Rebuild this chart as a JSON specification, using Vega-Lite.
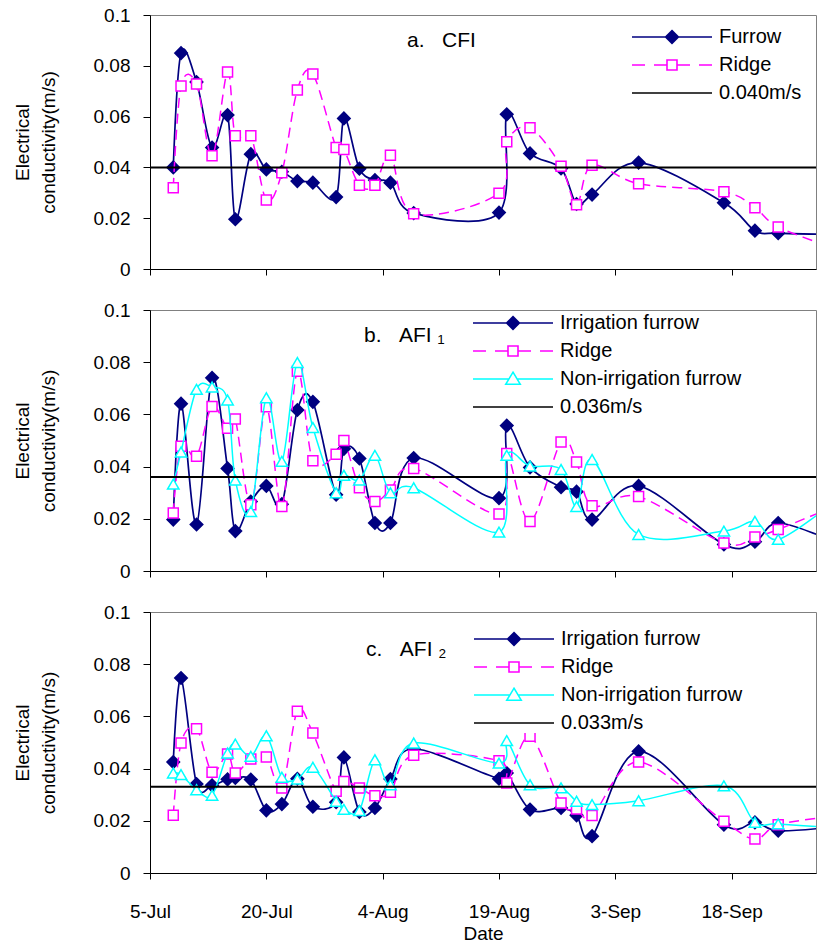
{
  "$schema": "https://vega.github.io/schema/vega-lite/v6.json",
  "padding": {"top": 5, "left": 12, "right": 0, "bottom": 0},
  "bounds": "flush",
  "spacing": 41,
  "datasets": {
    "a": [
      {"series":"Furrow","date":"2007/07/08","value":0.040},
      {"series":"Furrow","date":"2007/07/09","value":0.085},
      {"series":"Furrow","date":"2007/07/11","value":0.0736},
      {"series":"Furrow","date":"2007/07/13","value":0.0478},
      {"series":"Furrow","date":"2007/07/15","value":0.0606},
      {"series":"Furrow","date":"2007/07/16","value":0.0196},
      {"series":"Furrow","date":"2007/07/18","value":0.0452},
      {"series":"Furrow","date":"2007/07/20","value":0.0392},
      {"series":"Furrow","date":"2007/07/22","value":0.0383},
      {"series":"Furrow","date":"2007/07/24","value":0.0346},
      {"series":"Furrow","date":"2007/07/26","value":0.034},
      {"series":"Furrow","date":"2007/07/29","value":0.0283},
      {"series":"Furrow","date":"2007/07/30","value":0.0593},
      {"series":"Furrow","date":"2007/08/01","value":0.0395},
      {"series":"Furrow","date":"2007/08/03","value":0.035},
      {"series":"Furrow","date":"2007/08/05","value":0.034},
      {"series":"Furrow","date":"2007/08/08","value":0.022},
      {"series":"Furrow","date":"2007/08/19","value":0.0222},
      {"series":"Furrow","date":"2007/08/20","value":0.0609},
      {"series":"Furrow","date":"2007/08/23","value":0.0455},
      {"series":"Furrow","date":"2007/08/27","value":0.0396},
      {"series":"Furrow","date":"2007/08/29","value":0.0256},
      {"series":"Furrow","date":"2007/08/31","value":0.0293},
      {"series":"Furrow","date":"2007/09/06","value":0.0419},
      {"series":"Furrow","date":"2007/09/17","value":0.0261},
      {"series":"Furrow","date":"2007/09/21","value":0.0151},
      {"series":"Furrow","date":"2007/09/24","value":0.0141},
      {"series":"Furrow","date":"2007/10/01","value":0.0136},
      {"series":"Ridge","date":"2007/07/08","value":0.032},
      {"series":"Ridge","date":"2007/07/09","value":0.072},
      {"series":"Ridge","date":"2007/07/11","value":0.0728},
      {"series":"Ridge","date":"2007/07/13","value":0.0446},
      {"series":"Ridge","date":"2007/07/15","value":0.0776},
      {"series":"Ridge","date":"2007/07/16","value":0.0525},
      {"series":"Ridge","date":"2007/07/18","value":0.0525},
      {"series":"Ridge","date":"2007/07/20","value":0.0272},
      {"series":"Ridge","date":"2007/07/22","value":0.0379},
      {"series":"Ridge","date":"2007/07/24","value":0.0705},
      {"series":"Ridge","date":"2007/07/26","value":0.0768},
      {"series":"Ridge","date":"2007/07/29","value":0.0478},
      {"series":"Ridge","date":"2007/07/30","value":0.047},
      {"series":"Ridge","date":"2007/08/01","value":0.033},
      {"series":"Ridge","date":"2007/08/03","value":0.033},
      {"series":"Ridge","date":"2007/08/05","value":0.0448},
      {"series":"Ridge","date":"2007/08/08","value":0.0218},
      {"series":"Ridge","date":"2007/08/19","value":0.0298},
      {"series":"Ridge","date":"2007/08/20","value":0.0501},
      {"series":"Ridge","date":"2007/08/23","value":0.0556},
      {"series":"Ridge","date":"2007/08/27","value":0.0405},
      {"series":"Ridge","date":"2007/08/29","value":0.0253},
      {"series":"Ridge","date":"2007/08/31","value":0.0408},
      {"series":"Ridge","date":"2007/09/06","value":0.0336},
      {"series":"Ridge","date":"2007/09/17","value":0.0304},
      {"series":"Ridge","date":"2007/09/21","value":0.0241},
      {"series":"Ridge","date":"2007/09/24","value":0.0165},
      {"series":"Ridge","date":"2007/10/01","value":0.0085}
    ],
    "b": [
      {"series":"Irrigation furrow","date":"2007/07/08","value":0.0197},
      {"series":"Irrigation furrow","date":"2007/07/09","value":0.0641},
      {"series":"Irrigation furrow","date":"2007/07/11","value":0.0178},
      {"series":"Irrigation furrow","date":"2007/07/13","value":0.074},
      {"series":"Irrigation furrow","date":"2007/07/15","value":0.0393},
      {"series":"Irrigation furrow","date":"2007/07/16","value":0.0153},
      {"series":"Irrigation furrow","date":"2007/07/18","value":0.0266},
      {"series":"Irrigation furrow","date":"2007/07/20","value":0.0326},
      {"series":"Irrigation furrow","date":"2007/07/22","value":0.0256},
      {"series":"Irrigation furrow","date":"2007/07/24","value":0.0617},
      {"series":"Irrigation furrow","date":"2007/07/26","value":0.0648},
      {"series":"Irrigation furrow","date":"2007/07/29","value":0.0292},
      {"series":"Irrigation furrow","date":"2007/07/30","value":0.0468},
      {"series":"Irrigation furrow","date":"2007/08/01","value":0.0431},
      {"series":"Irrigation furrow","date":"2007/08/03","value":0.0184},
      {"series":"Irrigation furrow","date":"2007/08/05","value":0.0184},
      {"series":"Irrigation furrow","date":"2007/08/08","value":0.0433},
      {"series":"Irrigation furrow","date":"2007/08/19","value":0.0279},
      {"series":"Irrigation furrow","date":"2007/08/20","value":0.0557},
      {"series":"Irrigation furrow","date":"2007/08/23","value":0.0397},
      {"series":"Irrigation furrow","date":"2007/08/27","value":0.0321},
      {"series":"Irrigation furrow","date":"2007/08/29","value":0.0304},
      {"series":"Irrigation furrow","date":"2007/08/31","value":0.0197},
      {"series":"Irrigation furrow","date":"2007/09/06","value":0.0326},
      {"series":"Irrigation furrow","date":"2007/09/17","value":0.0102},
      {"series":"Irrigation furrow","date":"2007/09/21","value":0.0112},
      {"series":"Irrigation furrow","date":"2007/09/24","value":0.0184},
      {"series":"Irrigation furrow","date":"2007/10/01","value":0.0115},
      {"series":"Ridge","date":"2007/07/08","value":0.0222},
      {"series":"Ridge","date":"2007/07/09","value":0.0478},
      {"series":"Ridge","date":"2007/07/11","value":0.044},
      {"series":"Ridge","date":"2007/07/13","value":0.063},
      {"series":"Ridge","date":"2007/07/15","value":0.0547},
      {"series":"Ridge","date":"2007/07/16","value":0.0582},
      {"series":"Ridge","date":"2007/07/18","value":0.0254},
      {"series":"Ridge","date":"2007/07/20","value":0.0629},
      {"series":"Ridge","date":"2007/07/22","value":0.0247},
      {"series":"Ridge","date":"2007/07/24","value":0.0765},
      {"series":"Ridge","date":"2007/07/26","value":0.0422},
      {"series":"Ridge","date":"2007/07/29","value":0.0447},
      {"series":"Ridge","date":"2007/07/30","value":0.05},
      {"series":"Ridge","date":"2007/08/01","value":0.0319},
      {"series":"Ridge","date":"2007/08/03","value":0.0266},
      {"series":"Ridge","date":"2007/08/05","value":0.031},
      {"series":"Ridge","date":"2007/08/08","value":0.0393},
      {"series":"Ridge","date":"2007/08/19","value":0.0218},
      {"series":"Ridge","date":"2007/08/20","value":0.045},
      {"series":"Ridge","date":"2007/08/23","value":0.019},
      {"series":"Ridge","date":"2007/08/27","value":0.0494},
      {"series":"Ridge","date":"2007/08/29","value":0.0418},
      {"series":"Ridge","date":"2007/08/31","value":0.025},
      {"series":"Ridge","date":"2007/09/06","value":0.0285},
      {"series":"Ridge","date":"2007/09/17","value":0.0107},
      {"series":"Ridge","date":"2007/09/21","value":0.013},
      {"series":"Ridge","date":"2007/09/24","value":0.0159},
      {"series":"Ridge","date":"2007/10/01","value":0.0245},
      {"series":"Non-irrigation furrow","date":"2007/07/08","value":0.0333},
      {"series":"Non-irrigation furrow","date":"2007/07/09","value":0.0456},
      {"series":"Non-irrigation furrow","date":"2007/07/11","value":0.0696},
      {"series":"Non-irrigation furrow","date":"2007/07/13","value":0.0705},
      {"series":"Non-irrigation furrow","date":"2007/07/15","value":0.0655},
      {"series":"Non-irrigation furrow","date":"2007/07/16","value":0.0348},
      {"series":"Non-irrigation furrow","date":"2007/07/18","value":0.0228},
      {"series":"Non-irrigation furrow","date":"2007/07/20","value":0.0664},
      {"series":"Non-irrigation furrow","date":"2007/07/22","value":0.042},
      {"series":"Non-irrigation furrow","date":"2007/07/24","value":0.0799},
      {"series":"Non-irrigation furrow","date":"2007/07/26","value":0.055},
      {"series":"Non-irrigation furrow","date":"2007/07/29","value":0.03},
      {"series":"Non-irrigation furrow","date":"2007/07/30","value":0.0367},
      {"series":"Non-irrigation furrow","date":"2007/08/01","value":0.0348},
      {"series":"Non-irrigation furrow","date":"2007/08/03","value":0.0443},
      {"series":"Non-irrigation furrow","date":"2007/08/05","value":0.03},
      {"series":"Non-irrigation furrow","date":"2007/08/08","value":0.0319},
      {"series":"Non-irrigation furrow","date":"2007/08/19","value":0.0149},
      {"series":"Non-irrigation furrow","date":"2007/08/20","value":0.0443},
      {"series":"Non-irrigation furrow","date":"2007/08/23","value":0.0402},
      {"series":"Non-irrigation furrow","date":"2007/08/27","value":0.0389},
      {"series":"Non-irrigation furrow","date":"2007/08/29","value":0.0247},
      {"series":"Non-irrigation furrow","date":"2007/08/31","value":0.0427},
      {"series":"Non-irrigation furrow","date":"2007/09/06","value":0.014},
      {"series":"Non-irrigation furrow","date":"2007/09/17","value":0.0153},
      {"series":"Non-irrigation furrow","date":"2007/09/21","value":0.019},
      {"series":"Non-irrigation furrow","date":"2007/09/24","value":0.0121},
      {"series":"Non-irrigation furrow","date":"2007/10/01","value":0.026}
    ],
    "c": [
      {"series":"Irrigation furrow","date":"2007/07/08","value":0.0425},
      {"series":"Irrigation furrow","date":"2007/07/09","value":0.0747},
      {"series":"Irrigation furrow","date":"2007/07/11","value":0.0341},
      {"series":"Irrigation furrow","date":"2007/07/13","value":0.0336},
      {"series":"Irrigation furrow","date":"2007/07/15","value":0.0359},
      {"series":"Irrigation furrow","date":"2007/07/16","value":0.0364},
      {"series":"Irrigation furrow","date":"2007/07/18","value":0.0358},
      {"series":"Irrigation furrow","date":"2007/07/20","value":0.024},
      {"series":"Irrigation furrow","date":"2007/07/22","value":0.0264},
      {"series":"Irrigation furrow","date":"2007/07/24","value":0.0361},
      {"series":"Irrigation furrow","date":"2007/07/26","value":0.0254},
      {"series":"Irrigation furrow","date":"2007/07/29","value":0.0271},
      {"series":"Irrigation furrow","date":"2007/07/30","value":0.0443},
      {"series":"Irrigation furrow","date":"2007/08/01","value":0.0234},
      {"series":"Irrigation furrow","date":"2007/08/03","value":0.0249},
      {"series":"Irrigation furrow","date":"2007/08/05","value":0.036},
      {"series":"Irrigation furrow","date":"2007/08/08","value":0.0476},
      {"series":"Irrigation furrow","date":"2007/08/19","value":0.0361},
      {"series":"Irrigation furrow","date":"2007/08/20","value":0.0383},
      {"series":"Irrigation furrow","date":"2007/08/23","value":0.0243},
      {"series":"Irrigation furrow","date":"2007/08/27","value":0.0249},
      {"series":"Irrigation furrow","date":"2007/08/29","value":0.0221},
      {"series":"Irrigation furrow","date":"2007/08/31","value":0.0141},
      {"series":"Irrigation furrow","date":"2007/09/06","value":0.0466},
      {"series":"Irrigation furrow","date":"2007/09/17","value":0.0185},
      {"series":"Irrigation furrow","date":"2007/09/21","value":0.0194},
      {"series":"Irrigation furrow","date":"2007/09/24","value":0.0162},
      {"series":"Irrigation furrow","date":"2007/10/01","value":0.0176},
      {"series":"Ridge","date":"2007/07/08","value":0.0221},
      {"series":"Ridge","date":"2007/07/09","value":0.0498},
      {"series":"Ridge","date":"2007/07/11","value":0.0553},
      {"series":"Ridge","date":"2007/07/13","value":0.0386},
      {"series":"Ridge","date":"2007/07/15","value":0.0456},
      {"series":"Ridge","date":"2007/07/16","value":0.0383},
      {"series":"Ridge","date":"2007/07/18","value":0.0437},
      {"series":"Ridge","date":"2007/07/20","value":0.0444},
      {"series":"Ridge","date":"2007/07/22","value":0.0326},
      {"series":"Ridge","date":"2007/07/24","value":0.062},
      {"series":"Ridge","date":"2007/07/26","value":0.0536},
      {"series":"Ridge","date":"2007/07/29","value":0.0313},
      {"series":"Ridge","date":"2007/07/30","value":0.0351},
      {"series":"Ridge","date":"2007/08/01","value":0.0326},
      {"series":"Ridge","date":"2007/08/03","value":0.0296},
      {"series":"Ridge","date":"2007/08/05","value":0.0309},
      {"series":"Ridge","date":"2007/08/08","value":0.0451},
      {"series":"Ridge","date":"2007/08/19","value":0.043},
      {"series":"Ridge","date":"2007/08/20","value":0.0345},
      {"series":"Ridge","date":"2007/08/23","value":0.0524},
      {"series":"Ridge","date":"2007/08/27","value":0.0268},
      {"series":"Ridge","date":"2007/08/29","value":0.0245},
      {"series":"Ridge","date":"2007/08/31","value":0.022},
      {"series":"Ridge","date":"2007/09/06","value":0.0425},
      {"series":"Ridge","date":"2007/09/17","value":0.0198},
      {"series":"Ridge","date":"2007/09/21","value":0.013},
      {"series":"Ridge","date":"2007/09/24","value":0.0185},
      {"series":"Ridge","date":"2007/10/01","value":0.0217},
      {"series":"Non-irrigation furrow","date":"2007/07/08","value":0.0383},
      {"series":"Non-irrigation furrow","date":"2007/07/09","value":0.0377},
      {"series":"Non-irrigation furrow","date":"2007/07/11","value":0.0319},
      {"series":"Non-irrigation furrow","date":"2007/07/13","value":0.0298},
      {"series":"Non-irrigation furrow","date":"2007/07/15","value":0.046},
      {"series":"Non-irrigation furrow","date":"2007/07/16","value":0.0494},
      {"series":"Non-irrigation furrow","date":"2007/07/18","value":0.0447},
      {"series":"Non-irrigation furrow","date":"2007/07/20","value":0.0526},
      {"series":"Non-irrigation furrow","date":"2007/07/22","value":0.0367},
      {"series":"Non-irrigation furrow","date":"2007/07/24","value":0.036},
      {"series":"Non-irrigation furrow","date":"2007/07/26","value":0.0405},
      {"series":"Non-irrigation furrow","date":"2007/07/29","value":0.0275},
      {"series":"Non-irrigation furrow","date":"2007/07/30","value":0.0244},
      {"series":"Non-irrigation furrow","date":"2007/08/01","value":0.0239},
      {"series":"Non-irrigation furrow","date":"2007/08/03","value":0.0434},
      {"series":"Non-irrigation furrow","date":"2007/08/05","value":0.0338},
      {"series":"Non-irrigation furrow","date":"2007/08/08","value":0.0498},
      {"series":"Non-irrigation furrow","date":"2007/08/19","value":0.0421},
      {"series":"Non-irrigation furrow","date":"2007/08/20","value":0.0507},
      {"series":"Non-irrigation furrow","date":"2007/08/23","value":0.0338},
      {"series":"Non-irrigation furrow","date":"2007/08/27","value":0.0326},
      {"series":"Non-irrigation furrow","date":"2007/08/29","value":0.0275},
      {"series":"Non-irrigation furrow","date":"2007/08/31","value":0.0262},
      {"series":"Non-irrigation furrow","date":"2007/09/06","value":0.0277},
      {"series":"Non-irrigation furrow","date":"2007/09/17","value":0.0334},
      {"series":"Non-irrigation furrow","date":"2007/09/21","value":0.0194},
      {"series":"Non-irrigation furrow","date":"2007/09/24","value":0.0188},
      {"series":"Non-irrigation furrow","date":"2007/10/01","value":0.0174}
    ],
    "ta": [{"series":"0.040m/s","value":0.040}],
    "tb": [{"series":"0.036m/s","value":0.036}],
    "tc": [{"series":"0.033m/s","value":0.033}]
  },
  "vconcat": [
    {
      "width": 666, "height": 254,
      "title": {"text": "a.\u00a0\u00a0\u00a0CFI", "dx": 257, "offset": -45},
      "encoding": {
        "y": {"field": "value", "type": "quantitative", "scale": {"domain": [0, 0.1], "nice": false}, "axis": {"values": [0,0.02,0.04,0.06,0.08,0.1], "format": "~g", "title": ["Electrical", "conductivity(m/s)"]}}
      },
      "layer": [
        {
          "data": {"name": "a"},
          "transform": [{"filter": {"field": "series", "equal": "Furrow"}}],
          "mark": {"type": "line", "interpolate": "cardinal", "clip": true, "strokeWidth": 1.7, "color": "#000080"},
          "encoding": {
            "x": {"field": "date", "type": "temporal", "scale": {"domain": [{"year":2007,"month":"jul","date":5},{"year":2007,"month":"sep","date":28,"hours":21}]}, "axis": {"values": [{"year":2007,"month":"jul","date":5},{"year":2007,"month":"jul","date":20},{"year":2007,"month":"aug","date":4},{"year":2007,"month":"aug","date":19},{"year":2007,"month":"sep","date":3},{"year":2007,"month":"sep","date":18}], "labels": false, "title": null}}
          }
        },
        {
          "data": {"name": "a"},
          "transform": [{"filter": {"field": "series", "equal": "Furrow"}}],
          "mark": {"type": "point", "shape": "diamond", "filled": true, "fill": "#000080", "stroke": "#000080", "size": 140, "opacity": 1, "clip": true},
          "encoding": {"x": {"field": "date", "type": "temporal"}}
        },
        {
          "data": {"name": "a"},
          "transform": [{"filter": {"field": "series", "equal": "Ridge"}}],
          "mark": {"type": "line", "interpolate": "cardinal", "clip": true, "strokeWidth": 1.5, "color": "#ff00ff", "strokeDash": [10, 6]},
          "encoding": {"x": {"field": "date", "type": "temporal"}}
        },
        {
          "data": {"name": "a"},
          "transform": [{"filter": {"field": "series", "equal": "Ridge"}}],
          "mark": {"type": "point", "shape": "square", "filled": true, "fill": "#ffffff", "stroke": "#ff00ff", "strokeWidth": 1.5, "size": 100, "opacity": 1, "clip": true},
          "encoding": {"x": {"field": "date", "type": "temporal"}}
        },
        {
          "data": {"name": "ta"},
          "mark": {"type": "rule", "strokeWidth": 2, "color": "#000000"},
          "encoding": {}
        },
        {
          "data": {"values": []},
          "mark": {"type": "point", "filled": false, "opacity": 1, "strokeWidth": 1.6},
          "encoding": {
            "color": {"field": "series", "type": "nominal", "scale": {"domain": ["Furrow","Ridge","0.040m/s"], "range": ["#000080","#ff00ff","#000000"]},
              "legend": {"orient": "none", "legendX": 481, "legendY": 11, "title": null}},
            "shape": {"field": "series", "type": "nominal", "scale": {"domain": ["Furrow","Ridge","0.040m/s"], "range": [
              "M-1,0H7M3,-0.64L3.64,0L3,0.64L2.36,0ZM2.84,-0.48H3.16M2.68,-0.32H3.32M2.52,-0.16H3.48M2.52,0.16H3.48M2.68,0.32H3.32M2.84,0.48H3.16",
              "M-1,0H0.3M1.2,0H2.5M3.5,0H4.8M5.7,0H7M2.5,-0.5H3.5V0.5H2.5Z",
              "M-1,0H7"]},
              "legend": {"orient": "none", "legendX": 481, "legendY": 11, "title": null}}
          }
        }
      ]
    },
    {
      "width": 666, "height": 261,
      "title": {"text": "b.\u00a0\u00a0\u00a0AFI\u00a0\u2081", "dx": 214, "offset": -45},
      "encoding": {
        "y": {"field": "value", "type": "quantitative", "scale": {"domain": [0, 0.1], "nice": false}, "axis": {"values": [0,0.02,0.04,0.06,0.08,0.1], "format": "~g", "title": ["Electrical", "conductivity(m/s)"]}}
      },
      "layer": [
        {
          "data": {"name": "b"},
          "transform": [{"filter": {"field": "series", "equal": "Irrigation furrow"}}],
          "mark": {"type": "line", "interpolate": "cardinal", "clip": true, "strokeWidth": 1.7, "color": "#000080"},
          "encoding": {
            "x": {"field": "date", "type": "temporal", "scale": {"domain": [{"year":2007,"month":"jul","date":5},{"year":2007,"month":"sep","date":28,"hours":21}]}, "axis": {"values": [{"year":2007,"month":"jul","date":5},{"year":2007,"month":"jul","date":20},{"year":2007,"month":"aug","date":4},{"year":2007,"month":"aug","date":19},{"year":2007,"month":"sep","date":3},{"year":2007,"month":"sep","date":18}], "labels": false, "title": null}}
          }
        },
        {
          "data": {"name": "b"},
          "transform": [{"filter": {"field": "series", "equal": "Irrigation furrow"}}],
          "mark": {"type": "point", "shape": "diamond", "filled": true, "fill": "#000080", "stroke": "#000080", "size": 140, "opacity": 1, "clip": true},
          "encoding": {"x": {"field": "date", "type": "temporal"}}
        },
        {
          "data": {"name": "b"},
          "transform": [{"filter": {"field": "series", "equal": "Ridge"}}],
          "mark": {"type": "line", "interpolate": "cardinal", "clip": true, "strokeWidth": 1.5, "color": "#ff00ff", "strokeDash": [10, 6]},
          "encoding": {"x": {"field": "date", "type": "temporal"}}
        },
        {
          "data": {"name": "b"},
          "transform": [{"filter": {"field": "series", "equal": "Ridge"}}],
          "mark": {"type": "point", "shape": "square", "filled": true, "fill": "#ffffff", "stroke": "#ff00ff", "strokeWidth": 1.5, "size": 100, "opacity": 1, "clip": true},
          "encoding": {"x": {"field": "date", "type": "temporal"}}
        },
        {
          "data": {"name": "b"},
          "transform": [{"filter": {"field": "series", "equal": "Non-irrigation furrow"}}],
          "mark": {"type": "line", "interpolate": "cardinal", "clip": true, "strokeWidth": 1.5, "color": "#00ffff"},
          "encoding": {"x": {"field": "date", "type": "temporal"}}
        },
        {
          "data": {"name": "b"},
          "transform": [{"filter": {"field": "series", "equal": "Non-irrigation furrow"}}],
          "mark": {"type": "point", "shape": "triangle-up", "filled": true, "fill": "#ffffff", "stroke": "#00ffff", "strokeWidth": 1.5, "size": 130, "opacity": 1, "clip": true},
          "encoding": {"x": {"field": "date", "type": "temporal"}}
        },
        {
          "data": {"name": "tb"},
          "mark": {"type": "rule", "strokeWidth": 2, "color": "#000000"},
          "encoding": {}
        },
        {
          "data": {"values": []},
          "mark": {"type": "point", "filled": false, "opacity": 1, "strokeWidth": 1.6},
          "encoding": {
            "color": {"field": "series", "type": "nominal", "scale": {"domain": ["Irrigation furrow","Ridge","Non-irrigation furrow","0.036m/s"], "range": ["#000080","#ff00ff","#00ffff","#000000"]},
              "legend": {"orient": "none", "legendX": 322, "legendY": 2, "title": null}},
            "shape": {"field": "series", "type": "nominal", "scale": {"domain": ["Irrigation furrow","Ridge","Non-irrigation furrow","0.036m/s"], "range": [
              "M-1,0H7M3,-0.64L3.64,0L3,0.64L2.36,0ZM2.84,-0.48H3.16M2.68,-0.32H3.32M2.52,-0.16H3.48M2.52,0.16H3.48M2.68,0.32H3.32M2.84,0.48H3.16",
              "M-1,0H0.3M1.2,0H2.5M3.5,0H4.8M5.7,0H7M2.5,-0.5H3.5V0.5H2.5Z",
              "M-1,0H2.59M3.41,0H7M3,-0.68L3.72,0.52L2.28,0.52Z",
              "M-1,0H7"]},
              "legend": {"orient": "none", "legendX": 322, "legendY": 2, "title": null}}
          }
        }
      ]
    },
    {
      "width": 666, "height": 261,
      "title": {"text": "c.\u00a0\u00a0\u00a0AFI\u00a0\u2082", "dx": 216, "offset": -57},
      "encoding": {
        "y": {"field": "value", "type": "quantitative", "scale": {"domain": [0, 0.1], "nice": false}, "axis": {"values": [0,0.02,0.04,0.06,0.08,0.1], "format": "~g", "title": ["Electrical", "conductivity(m/s)"]}}
      },
      "layer": [
        {
          "data": {"name": "c"},
          "transform": [{"filter": {"field": "series", "equal": "Irrigation furrow"}}],
          "mark": {"type": "line", "interpolate": "cardinal", "clip": true, "strokeWidth": 1.7, "color": "#000080"},
          "encoding": {
            "x": {"field": "date", "type": "temporal", "scale": {"domain": [{"year":2007,"month":"jul","date":5},{"year":2007,"month":"sep","date":28,"hours":21}]}, "axis": {"values": [{"year":2007,"month":"jul","date":5},{"year":2007,"month":"jul","date":20},{"year":2007,"month":"aug","date":4},{"year":2007,"month":"aug","date":19},{"year":2007,"month":"sep","date":3},{"year":2007,"month":"sep","date":18}], "format": "%-d-%b", "labelPadding": 23, "title": "Date", "titlePadding": 3}}
          }
        },
        {
          "data": {"name": "c"},
          "transform": [{"filter": {"field": "series", "equal": "Irrigation furrow"}}],
          "mark": {"type": "point", "shape": "diamond", "filled": true, "fill": "#000080", "stroke": "#000080", "size": 140, "opacity": 1, "clip": true},
          "encoding": {"x": {"field": "date", "type": "temporal"}}
        },
        {
          "data": {"name": "c"},
          "transform": [{"filter": {"field": "series", "equal": "Ridge"}}],
          "mark": {"type": "line", "interpolate": "cardinal", "clip": true, "strokeWidth": 1.5, "color": "#ff00ff", "strokeDash": [10, 6]},
          "encoding": {"x": {"field": "date", "type": "temporal"}}
        },
        {
          "data": {"name": "c"},
          "transform": [{"filter": {"field": "series", "equal": "Ridge"}}],
          "mark": {"type": "point", "shape": "square", "filled": true, "fill": "#ffffff", "stroke": "#ff00ff", "strokeWidth": 1.5, "size": 100, "opacity": 1, "clip": true},
          "encoding": {"x": {"field": "date", "type": "temporal"}}
        },
        {
          "data": {"name": "c"},
          "transform": [{"filter": {"field": "series", "equal": "Non-irrigation furrow"}}],
          "mark": {"type": "line", "interpolate": "cardinal", "clip": true, "strokeWidth": 1.5, "color": "#00ffff"},
          "encoding": {"x": {"field": "date", "type": "temporal"}}
        },
        {
          "data": {"name": "c"},
          "transform": [{"filter": {"field": "series", "equal": "Non-irrigation furrow"}}],
          "mark": {"type": "point", "shape": "triangle-up", "filled": true, "fill": "#ffffff", "stroke": "#00ffff", "strokeWidth": 1.5, "size": 130, "opacity": 1, "clip": true},
          "encoding": {"x": {"field": "date", "type": "temporal"}}
        },
        {
          "data": {"name": "tc"},
          "mark": {"type": "rule", "strokeWidth": 2, "color": "#000000"},
          "encoding": {}
        },
        {
          "data": {"values": []},
          "mark": {"type": "point", "filled": false, "opacity": 1, "strokeWidth": 1.6},
          "encoding": {
            "color": {"field": "series", "type": "nominal", "scale": {"domain": ["Irrigation furrow","Ridge","Non-irrigation furrow","0.033m/s"], "range": ["#000080","#ff00ff","#00ffff","#000000"]},
              "legend": {"orient": "none", "legendX": 323, "legendY": 16, "title": null}},
            "shape": {"field": "series", "type": "nominal", "scale": {"domain": ["Irrigation furrow","Ridge","Non-irrigation furrow","0.033m/s"], "range": [
              "M-1,0H7M3,-0.64L3.64,0L3,0.64L2.36,0ZM2.84,-0.48H3.16M2.68,-0.32H3.32M2.52,-0.16H3.48M2.52,0.16H3.48M2.68,0.32H3.32M2.84,0.48H3.16",
              "M-1,0H0.3M1.2,0H2.5M3.5,0H4.8M5.7,0H7M2.5,-0.5H3.5V0.5H2.5Z",
              "M-1,0H2.59M3.41,0H7M3,-0.68L3.72,0.52L2.28,0.52Z",
              "M-1,0H7"]},
              "legend": {"orient": "none", "legendX": 323, "legendY": 16, "title": null}}
          }
        }
      ]
    }
  ],
  "resolve": {
    "scale": {"color": "independent", "shape": "independent"},
    "legend": {"color": "independent", "shape": "independent"}
  },
  "config": {
    "font": "Liberation Sans",
    "background": "white",
    "view": {"stroke": "#808080", "strokeWidth": 1},
    "axis": {
      "labelFont": "Liberation Sans", "labelFontSize": 19, "labelColor": "#000000",
      "titleFont": "Liberation Sans", "titleFontSize": 19, "titleFontWeight": "normal", "titleColor": "#000000",
      "domainColor": "#000000", "domainWidth": 1, "tickColor": "#000000", "tickWidth": 1,
      "grid": false, "labelFlush": false, "labelOverlap": false
    },
    "axisY": {"tickSize": 7, "labelPadding": 13, "titlePadding": 35, "titleLineHeight": 26},
    "axisX": {"tickSize": 6},
    "legend": {
      "labelFont": "Liberation Sans", "labelFontSize": 20, "labelColor": "#000000", "labelOffset": 66,
      "rowPadding": 7, "symbolSize": 400, "symbolStrokeWidth": 1.6, "fillColor": "white",
      "padding": 0, "labelLimit": 0, "symbolOpacity": 1
    },
    "title": {"font": "Liberation Sans", "fontSize": 21, "fontWeight": "normal", "color": "#000000", "anchor": "start", "frame": "group"}
  }
}
